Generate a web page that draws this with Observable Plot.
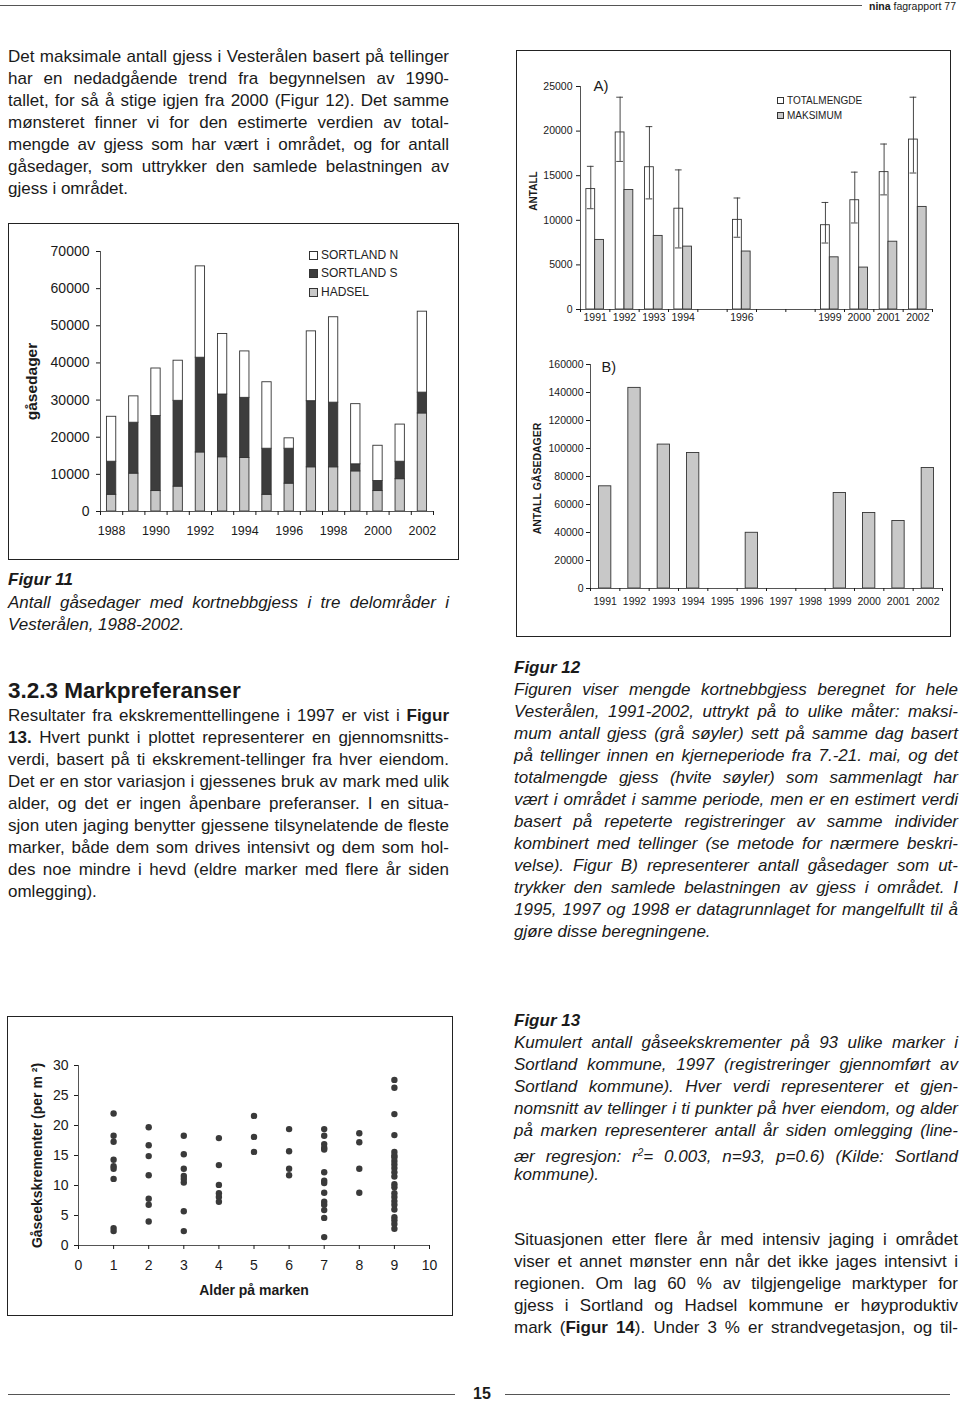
<!DOCTYPE html>
<html><head><meta charset="utf-8">
<script src="https://cdn.jsdelivr.net/npm/d3@7"></script>
<script src="https://cdn.jsdelivr.net/npm/@observablehq/plot@0.6"></script>
<style>
body{margin:0;background:#fff;}
#page{position:relative;width:960px;height:1403px;font-family:"Liberation Sans",Arial,Helvetica,sans-serif;color:#1a1a1a;overflow:hidden;background:#fff;}
.ln{position:absolute;font-size:17px;line-height:22px;height:22px;text-align:justify;text-align-last:justify;}
.ln.last{text-align-last:left;}
.L{left:8px;width:441px;}
.R{left:514px;width:444px;}
.it{font-style:italic;}
.box{position:absolute;border:1.5px solid #222;box-sizing:border-box;}
.chart{position:absolute;}
.hl{position:absolute;height:0;border-top:1px solid #555;}
.sw{position:absolute;border:1px solid #333;box-sizing:border-box;}
.lg{position:absolute;white-space:nowrap;}
</style></head>
<body><div id="page"></div>
<script>
// ---------- data: Figur 11 ----------
const years11 = [1988,1989,1990,1991,1992,1993,1994,1995,1996,1997,1998,1999,2000,2001,2002];
const yearLabels11 = [1988,1990,1992,1994,1996,1998,2000,2002];
const hadsel    = [4500,10200,5500,6700,15900,14600,14400,4500,7500,11900,11900,10800,5500,8700,26400];
const sortlandS = [8900,13700,20200,23100,25500,16900,16200,12400,9400,17800,17400,1900,2700,4700,5600];
const sortlandN = [12100,7100,12800,10800,24600,16300,12500,17900,2800,18800,23000,16200,9500,10000,21800];
const ticks11 = [0,10000,20000,30000,40000,50000,60000,70000];
const series11 = ["SORTLAND N","SORTLAND S","HADSEL"];

// ---------- data: Figur 12 A ----------
const yearsA = [1991,1992,1993,1994,1996,1999,2000,2001,2002];
const totalmengde = [13500,19850,15950,11300,10050,9450,12250,15400,19050];
const totalLo     = [11300,16600,12400,6900,8100,7450,9700,12850,15300];
const totalHi     = [16050,23800,20500,15650,12500,12000,15400,18550,23800];
const maksimum    = [7800,13400,8250,7050,6500,5850,4700,7600,11500];
const ticksA = [0,5000,10000,15000,20000,25000];

// ---------- data: Figur 12 B ----------
const yearsB = [1991,1992,1993,1994,1996,1999,2000,2001,2002];
const gasedagerB = [73000,143300,102800,96800,39800,68200,53900,48200,86100];
const labelsB = [1991,1992,1993,1994,1995,1996,1997,1998,1999,2000,2001,2002];
const ticksB = [0,20000,40000,60000,80000,100000,120000,140000,160000];

// ---------- data: Figur 13 ----------
const ages = [1,2,3,4,5,6,7,8,9];
const ekskr = [
  [22.0,18.3,17.3,14.3,13.2,12.8,11.1,2.9,2.4],
  [19.7,16.7,14.9,11.7,7.8,6.8,4.0],
  [18.3,15.2,12.8,11.6,11.1,10.5,5.7,2.4],
  [17.9,13.4,10.1,8.7,8.1,7.3],
  [21.6,18.1,15.6],
  [19.4,15.7,12.8,11.7],
  [19.4,18.3,16.9,16.3,16.0,12.2,10.8,10.4,8.8,7.3,6.8,5.9,4.6,1.4],
  [18.7,17.2,12.8,8.8],
  [27.6,26.3,21.9,18.4,15.6,15.0,14.7,14.1,13.5,12.9,12.2,11.5,10.2,9.7,8.7,8.1,7.4,6.8,6.0,4.7,4.2,3.6,2.8]
];
const ticks13y = [0,5,10,15,20,25,30];
const ticks13x = [0,1,2,3,4,5,6,7,8,9,10];

// ---------- text ----------
const txtTop = [
 "Det maksimale antall gjess i Vesterålen basert på tellinger",
 "har en nedadgående trend fra begynnelsen av 1990-",
 "tallet, for så å stige igjen fra 2000 (Figur 12). Det samme",
 "mønsteret finner vi for den estimerte verdien av total-",
 "mengde av gjess som har vært i området, og for antall",
 "gåsedager, som uttrykker den samlede belastningen av",
 "gjess i området."];
const txtCap11 = ["Antall gåsedager med kortnebbgjess i tre delområder i","Vesterålen, 1988-2002."];
const txtPara = [
 "Resultater fra ekskrementtellingene i 1997 er vist i <b>Figur</b>",
 "<b>13.</b> Hvert punkt i plottet representerer en gjennomsnitts-",
 "verdi, basert på ti ekskrement-tellinger fra hver eiendom.",
 "Det er en stor variasjon i gjessenes bruk av mark med ulik",
 "alder, og det er ingen åpenbare preferanser. I en situa-",
 "sjon uten jaging benytter gjessene tilsynelatende de fleste",
 "marker, både dem som drives intensivt og dem som hol-",
 "des noe mindre i hevd (eldre marker med flere år siden",
 "omlegging)."];
const txtCap12 = [
 "Figuren viser mengde kortnebbgjess beregnet for hele",
 "Vesterålen, 1991-2002, uttrykt på to ulike måter: maksi-",
 "mum antall gjess (grå søyler) sett på samme dag basert",
 "på tellinger innen en kjerneperiode fra 7.-21. mai, og det",
 "totalmengde gjess (hvite søyler) som sammenlagt har",
 "vært i området i samme periode, men er en estimert verdi",
 "basert på repeterte registreringer av samme individer",
 "kombinert med tellinger (se metode for nærmere beskri-",
 "velse). Figur B) representerer antall gåsedager som ut-",
 "trykker den samlede belastningen av gjess i området. I",
 "1995, 1997 og 1998 er datagrunnlaget for mangelfullt til å",
 "gjøre disse beregningene."];
const txtCap13 = [
 "Kumulert antall gåseekskrementer på 93 ulike marker i",
 "Sortland kommune, 1997 (registreringer gjennomført av",
 "Sortland kommune). Hver verdi representerer et gjen-",
 "nomsnitt av tellinger i ti punkter på hver eiendom, og alder",
 "på marken representerer antall år siden omlegging (line-",
 "ær regresjon: r<sup style='font-size:10px;vertical-align:6px'>2</sup>= 0.003, n=93, p=0.6) (Kilde: Sortland",
 "kommune)."];
const txtPara2 = [
 "Situasjonen etter flere år med intensiv jaging i området",
 "viser et annet mønster enn når det ikke jages intensivt i",
 "regionen. Om lag 60 % av tilgjengelige marktyper for",
 "gjess i Sortland og Hadsel kommune er høyproduktiv",
 "mark (<b>Figur 14</b>). Under 3 % er strandvegetasjon, og til-"];

const page = document.getElementById("page");
function add(html, cls, style){ const d=document.createElement("div"); if(cls) d.className=cls; if(style) d.setAttribute("style",style); d.innerHTML=html; page.appendChild(d); return d; }
function block(lines, col, yc, extra, lastJust){
  lines.forEach((t,i)=>{
    const isLast = (i===lines.length-1) && !lastJust;
    add(t, "ln "+col+(extra?" "+extra:"")+(isLast?" last":""), "top:"+(yc+22*i-11)+"px");
  });
}
// header
add("", "hl", "left:0;top:5px;width:862px;");
add("<b>nina</b> fagrapport 77", "lg", "right:4px;top:0px;font-size:10.5px;line-height:12px;");
// footer
add("", "hl", "left:8px;top:1394px;width:447px;");
add("", "hl", "left:505px;top:1394px;width:445px;");
add("<b>15</b>", "lg", "left:473px;top:1385px;font-size:16px;line-height:18px;");

block(txtTop, "L", 57, "", false);
add("<b>Figur 11</b>", "ln L it last", "top:"+(580-11)+"px");
block(txtCap11, "L it", 603, "", false);
add("<b>3.2.3 Markpreferanser</b>", "lg", "left:8px;top:677px;font-size:22.5px;line-height:28px;");
block(txtPara, "L", 716, "", false);
add("<b>Figur 12</b>", "ln R it last", "top:"+(668-11)+"px");
block(txtCap12, "R it", 690, "", false);
add("<b>Figur 13</b>", "ln R it last", "top:"+(1021-11)+"px");
block(txtCap13, "R it", 1043, "", false);
block(txtPara2, "R", 1240, "", true);

// boxes
add("", "box", "left:8px;top:223px;width:451px;height:337px;");
add("", "box", "left:516px;top:50px;width:435px;height:587px;");
add("", "box", "left:7px;top:1016px;width:446px;height:300px;");

const font = '"Liberation Sans", Arial, Helvetica, sans-serif';
function place(svg, left, top){ const d=document.createElement("div"); d.className="chart"; d.style.left=left+"px"; d.style.top=top+"px"; d.appendChild(svg); page.appendChild(d); }
const baseStyle = {fontFamily: font, color: "#1a1a1a", background: "transparent", overflow: "visible"};

// ---------- Figur 11 chart ----------
const stack11 = years11.flatMap((yr,i)=>{
  let y0 = 0;
  return [["HADSEL",hadsel[i]],["SORTLAND S",sortlandS[i]],["SORTLAND N",sortlandN[i]]].map(([s,v])=>{
    const r = {year: yr, series: s, y1: y0, y2: y0+v}; y0 += v; return r; });
});
const fig11 = Plot.plot({
  width: 460, height: 320, marginLeft: 100, marginRight: 27, marginTop: 21, marginBottom: 39,
  style: {...baseStyle, fontSize: "14px"},
  x: {type: "linear", domain: [1987.5, 2002.5]},
  y: {domain: [0, 70000]},
  color: {domain: series11, range: ["#ffffff", "#3d3d3d", "#c8c8c8"]},
  marks: [
    Plot.rectY(stack11, {x1: d => d.year - 0.21, x2: d => d.year + 0.21, y1: "y1", y2: "y2", fill: "series", stroke: "#333", strokeWidth: 0.9}),
    Plot.ruleY([0], {stroke: "#555"}),
    Plot.ruleX([1987.5], {stroke: "#555"}),
    Plot.axisY({ticks: ticks11, tickSize: 4, tickPadding: 7, tickFormat: d => String(d), fontSize: 14, label: null}),
    Plot.axisX({ticks: years11.map(y => y - 0.5).concat([2002.5]), tickSize: 4, tickFormat: () => "", label: null}),
    Plot.axisX({ticks: yearLabels11, tickSize: 0, tickPadding: 15, tickFormat: d => String(d), fontSize: 12.5, label: null}),
    Plot.text(["gåsedager"], {text: d => d, frameAnchor: "left", textAnchor: "middle", lineAnchor: "middle", dx: -68, rotate: -90, fontWeight: "bold", fontSize: 15.5})
  ]
});
place(fig11, 0, 230);
// legend fig 11
[["SORTLAND N","#ffffff",255],["SORTLAND S","#3d3d3d",273],["HADSEL","#c8c8c8",292]].forEach(([t,c,y])=>{
  add("", "sw", `left:309px;top:${y-4.5}px;width:9px;height:9px;background:${c};`);
  add(t, "lg", `left:321px;top:${y-7}px;font-size:12px;line-height:14px;color:#222;`);
});

// ---------- Figur 12 A ----------
const tableA = yearsA.map((y,i)=>({year: y, total: totalmengde[i], lo: totalLo[i], hi: totalHi[i], maks: maksimum[i]}));
const figA = Plot.plot({
  width: 450, height: 270, marginLeft: 70, marginRight: 28, marginTop: 16, marginBottom: 31,
  style: {...baseStyle, fontSize: "10.5px"},
  x: {type: "linear", domain: [1990.5, 2002.5]},
  y: {domain: [0, 25000]},
  marks: [
    Plot.rectY(tableA, {x1: d => d.year - 0.3, x2: d => d.year, y1: 0, y2: "total", fill: "#ffffff", stroke: "#333", strokeWidth: 0.9}),
    Plot.rectY(tableA, {x1: d => d.year, x2: d => d.year + 0.3, y1: 0, y2: "maks", fill: "#c8c8c8", stroke: "#333", strokeWidth: 0.9}),
    Plot.ruleX(tableA, {x: d => d.year - 0.15, y1: "lo", y2: "hi", stroke: "#333", strokeWidth: 0.9}),
    Plot.ruleY(tableA, {y: "hi", x1: d => d.year - 0.265, x2: d => d.year - 0.035, stroke: "#333", strokeWidth: 0.9}),
    Plot.ruleY(tableA, {y: "lo", x1: d => d.year - 0.265, x2: d => d.year - 0.035, stroke: "#333", strokeWidth: 0.9}),
    Plot.ruleY([0], {stroke: "#555"}),
    Plot.ruleX([1990.5], {stroke: "#555"}),
    Plot.axisY({ticks: ticksA, tickSize: 4, tickPadding: 4, tickFormat: d => String(d), fontSize: 10.5, label: null}),
    Plot.axisX({ticks: d3.range(1990.5, 2003, 1), tickSize: 3, tickFormat: () => "", label: null}),
    Plot.axisX({ticks: yearsA, tickSize: 0, tickPadding: 4, tickFormat: d => String(d), fontSize: 10.5, label: null}),
    Plot.text(["ANTALL"], {text: d => d, frameAnchor: "left", textAnchor: "middle", lineAnchor: "middle", dx: -47, dy: -7, rotate: -90, fontWeight: "bold", fontSize: 10}),
    Plot.text(["A)"], {text: d => d, frameAnchor: "top-left", textAnchor: "start", lineAnchor: "middle", dx: 13, dy: 0, fontSize: 15})
  ]
});
place(figA, 510, 70);
[["TOTALMENGDE","#ffffff",100.7],["MAKSIMUM","#c8c8c8",115.7]].forEach(([t,c,y])=>{
  add("", "sw", `left:777px;top:${y-3.5}px;width:7px;height:7px;background:${c};`);
  add(t, "lg", `left:787px;top:${y-6}px;font-size:10px;line-height:12px;color:#222;`);
});

// ---------- Figur 12 B ----------
const tableB = yearsB.map((y,i)=>({year: y, value: gasedagerB[i]}));
const figB = Plot.plot({
  width: 450, height: 280, marginLeft: 80, marginRight: 18, marginTop: 14, marginBottom: 42,
  style: {...baseStyle, fontSize: "10.5px"},
  x: {type: "linear", domain: [1990.5, 2002.5]},
  y: {domain: [0, 160000]},
  marks: [
    Plot.rectY(tableB, {x1: d => d.year - 0.21, x2: d => d.year + 0.21, y1: 0, y2: "value", fill: "#c8c8c8", stroke: "#333", strokeWidth: 0.9}),
    Plot.ruleY([0], {stroke: "#555"}),
    Plot.ruleX([1990.5], {stroke: "#555"}),
    Plot.axisY({ticks: ticksB, tickSize: 4, tickPadding: 3, tickFormat: d => String(d), fontSize: 10.5, label: null}),
    Plot.axisX({ticks: d3.range(1990.5, 2003, 1), tickSize: 3, tickFormat: () => "", label: null}),
    Plot.axisX({ticks: labelsB, tickSize: 0, tickPadding: 9, tickFormat: d => String(d), fontSize: 10.5, label: null}),
    Plot.text(["ANTALL GÅSEDAGER"], {text: d => d, frameAnchor: "left", textAnchor: "middle", lineAnchor: "middle", dx: -53, dy: 2, rotate: -90, fontWeight: "bold", fontSize: 10.5}),
    Plot.text(["B)"], {text: d => d, frameAnchor: "top-left", textAnchor: "start", lineAnchor: "middle", dx: 11, dy: 3, fontSize: 14.5})
  ]
});
place(figB, 510, 350);

// ---------- Figur 13 ----------
const table13 = ages.flatMap((a,i) => ekskr[i].map(v => ({age: a, value: v})));
const fig13 = Plot.plot({
  width: 460, height: 270, marginLeft: 78, marginRight: 31, marginTop: 25, marginBottom: 65,
  style: {...baseStyle, fontSize: "14px"},
  x: {domain: [0, 10]},
  y: {domain: [0, 30]},
  marks: [
    Plot.ruleY([0], {stroke: "#555"}),
    Plot.ruleX([0], {stroke: "#555"}),
    Plot.dot(table13, {x: "age", y: "value", r: 3.2, fill: "#3a3a3a", stroke: "none"}),
    Plot.axisY({ticks: ticks13y, tickSize: 4, tickPadding: 6, tickFormat: d => String(d), fontSize: 14, label: null}),
    Plot.axisX({ticks: ticks13x, tickSize: 4, tickPadding: 11, tickFormat: d => String(d), fontSize: 14, label: null}),
    Plot.text(["Gåseekskrementer (per m ²)"], {text: d => d, frameAnchor: "left", textAnchor: "middle", lineAnchor: "middle", dx: -41, rotate: -90, fontWeight: "bold", fontSize: 14}),
    Plot.text(["Alder på marken"], {text: d => d, frameAnchor: "bottom", textAnchor: "middle", lineAnchor: "middle", dy: 45, fontWeight: "bold", fontSize: 14})
  ]
});
place(fig13, 0, 1040);
</script>
</body></html>
